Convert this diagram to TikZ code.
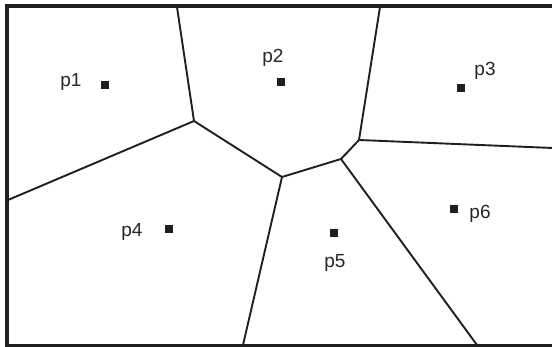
\documentclass[tikz,border=0pt]{standalone}
\usepackage{fontspec}
\setmainfont{Liberation Sans}
\usetikzlibrary{calc}
\begin{document}
\begin{tikzpicture}[x=1pt,y=-1pt,
    site/.style={fill=black!88, minimum size=8pt, inner sep=0pt},
    edge/.style={line width=1.9pt, black!88},
    lbl/.style={font=\fontsize{19}{22}\selectfont, text=black!85, inner sep=0pt}]
    \useasboundingbox (0,0) rectangle (552,347);
    % Border
    \draw[line width=4pt, black!88] (7,6.5) rectangle (562,346);
    % Voronoi vertices
    \coordinate (a) at (177,7);
    \coordinate (b) at (194,121);
    \coordinate (l) at (8,200);
    \coordinate (c) at (282,177);
    \coordinate (d) at (341,159);
    \coordinate (e) at (359,140);
    \coordinate (r) at (553,148);
    \coordinate (t) at (380,7);
    \coordinate (s) at (243,345);
    \coordinate (u) at (477,345);
    % Edges
    \draw[edge] (a) -- (b) -- (c) -- (d) -- (e) -- (t);
    \draw[edge] (l) -- (b);
    \draw[edge] (e) -- (r);
    \draw[edge] (c) -- (s);
    \draw[edge] (d) -- (u);
    % Sites
    \node[site] (p1) at (105,85) {};
    \node[site] (p2) at (281,82) {};
    \node[site] (p3) at (461,88) {};
    \node[site] (p4) at (169,229) {};
    \node[site] (p5) at (334,233) {};
    \node[site] (p6) at (454,209) {};
    % Labels
    \node[lbl] (n1) at (71,81.5) {p1};
    \node[lbl] (n2) at (273,58) {p2};
    \node[lbl] (n3) at (485,71) {p3};
    \node[lbl] (n4) at (132,231.5) {p4};
    \node[lbl] (n5) at (335,262.5) {p5};
    \node[lbl] (n6) at (480,213.5) {p6};
\end{tikzpicture}
\end{document}
